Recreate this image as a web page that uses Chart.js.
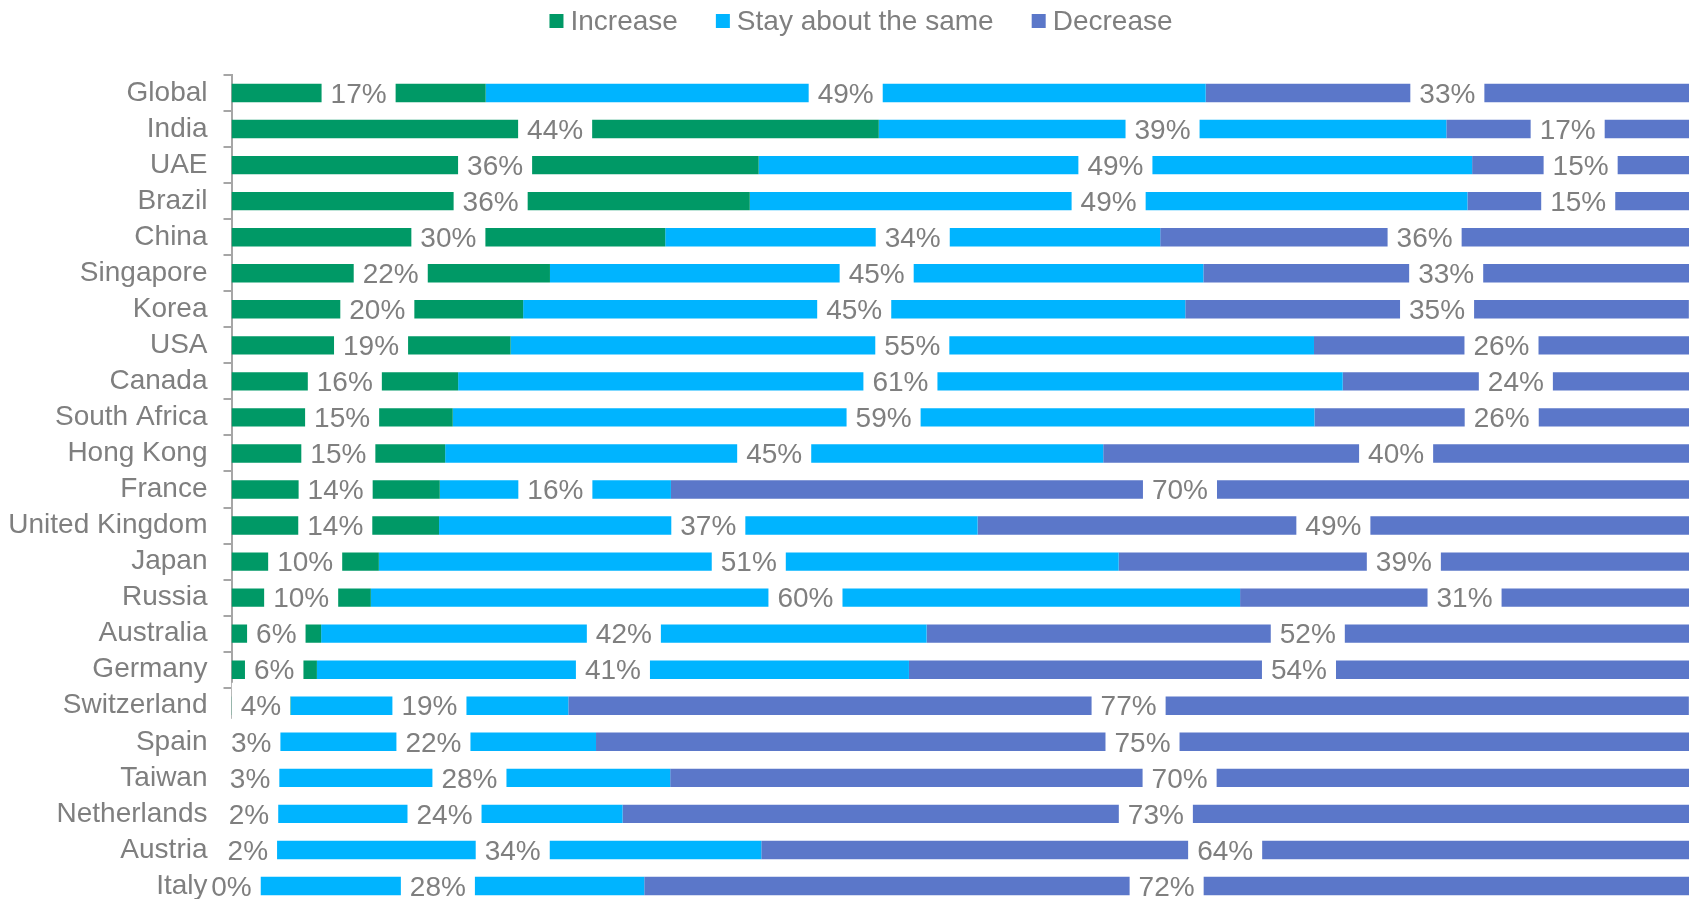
<!DOCTYPE html>
<html>
<head>
<meta charset="utf-8">
<script src="https://cdn.jsdelivr.net/npm/chart.js@4.4.1/dist/chart.umd.min.js"></script>
<style>
  html, body { margin: 0; padding: 0; background: #fff; overflow: hidden; }
  canvas { display: block; }
</style>
</head>
<body>
<canvas id="chart" width="1700" height="940"></canvas>
<script>
// share of answers per country, in percent
const countries = ["Global", "India", "UAE", "Brazil", "China", "Singapore", "Korea", "USA", "Canada",
  "South Africa", "Hong Kong", "France", "United Kingdom", "Japan", "Russia", "Australia", "Germany",
  "Switzerland", "Spain", "Taiwan", "Netherlands", "Austria", "Italy"];
const increase = [17.44, 44.41, 36.17, 35.56, 29.76, 21.85, 20.01, 19.15, 15.55, 15.18, 14.66, 14.29,
  14.24, 10.11, 9.56, 6.15, 5.86, 4.05, 2.70, 2.55, 2.40, 2.24, 0];
const stayTheSame = [49.40, 38.94, 48.95, 49.24, 33.96, 44.83, 45.43, 55.12, 60.69, 59.12, 45.15, 15.86,
  36.95, 50.76, 59.64, 41.54, 40.62, 19.06, 22.31, 27.55, 24.43, 34.11, 28.32];
const decrease = [33.16, 16.65, 14.89, 15.20, 36.28, 33.32, 34.55, 25.73, 23.76, 25.70, 40.19, 69.85,
  48.82, 39.13, 30.80, 52.31, 53.52, 76.88, 74.99, 69.90, 73.18, 63.65, 71.68];
const seriesNames = ["Increase", "Stay about the same", "Decrease"];

const seriesColors = ["#009966", "#00B4FF", "#5B77C9"];
const textGray = "#7F7F7F";
const axisGray = "#A6A6A6";
const fontFamily = "'Liberation Sans', Arial, sans-serif";

// percentage label on a white box in the middle of every segment
const segmentLabels = {
  id: "segmentLabels",
  afterDatasetsDraw(chart) {
    const ctx = chart.ctx;
    const minLeft = chart.chartArea.left - 24; // keep clear of the country names
    ctx.save();
    ctx.font = "28px " + fontFamily;
    const items = [];
    chart.data.datasets.forEach((ds, i) => {
      chart.getDatasetMeta(i).data.forEach((bar, j) => {
        const text = Math.round(ds.data[j]) + "%";
        items.push({ x: (bar.x + bar.base) / 2, y: bar.y, text: text, w: ctx.measureText(text).width });
      });
    });
    // boxes first so a neighbour's box never hides a label
    ctx.fillStyle = "#fff";
    items.forEach(it => {
      const left = Math.max(it.x - it.w / 2 - 9, minLeft);
      const right = it.x + it.w / 2 + 9;
      ctx.fillRect(left, it.y - 23, right - left, 46);
    });
    ctx.fillStyle = textGray;
    ctx.textAlign = "center";
    ctx.textBaseline = "middle";
    items.forEach(it => ctx.fillText(it.text, it.x, it.y + 2));
    ctx.restore();
  }
};

// legend row across the top
const topLegend = {
  id: "topLegend",
  afterDraw(chart) {
    const ctx = chart.ctx;
    const box = 14, gap = 7, spacing = 38;
    ctx.save();
    ctx.font = "28px " + fontFamily;
    const widths = chart.data.datasets.map(ds => box + gap + ctx.measureText(ds.label).width);
    const total = widths.reduce((a, b) => a + b, 0) + spacing * (widths.length - 1);
    let x = 861 - total / 2;
    const y = 21;
    ctx.textBaseline = "middle";
    chart.data.datasets.forEach((ds, i) => {
      ctx.fillStyle = ds.backgroundColor;
      ctx.fillRect(x, y - box / 2, box, box);
      ctx.fillStyle = textGray;
      ctx.fillText(ds.label, x + box + gap, y + 1);
      x += widths[i] + spacing;
    });
    ctx.restore();
  }
};

const series = [increase, stayTheSame, decrease];

new Chart(document.getElementById("chart").getContext("2d"), {
  type: "bar",
  data: {
    labels: countries,
    datasets: series.map((values, i) => ({
      label: seriesNames[i],
      data: values,
      backgroundColor: seriesColors[i],
      borderWidth: 0,
      categoryPercentage: 1,
      barPercentage: 0.51
    }))
  },
  options: {
    indexAxis: "y",
    responsive: false,
    animation: false,
    layout: { padding: { left: 8, right: 11, top: 75, bottom: 36 } },
    plugins: {
      legend: { display: false },
      tooltip: { enabled: false }
    },
    scales: {
      x: { stacked: true, min: 0, max: 100, display: false },
      y: {
        stacked: true,
        afterFit(scale) { scale.width = 223.5; },
        grid: { drawOnChartArea: false, color: axisGray, lineWidth: 2, tickLength: 8, offset: true },
        border: { color: axisGray, width: 2 },
        ticks: {
          autoSkip: false,
          color: textGray,
          padding: 16,
          font: { size: 28, family: fontFamily }
        }
      }
    }
  },
  plugins: [segmentLabels, topLegend]
});
</script>
</body>
</html>
